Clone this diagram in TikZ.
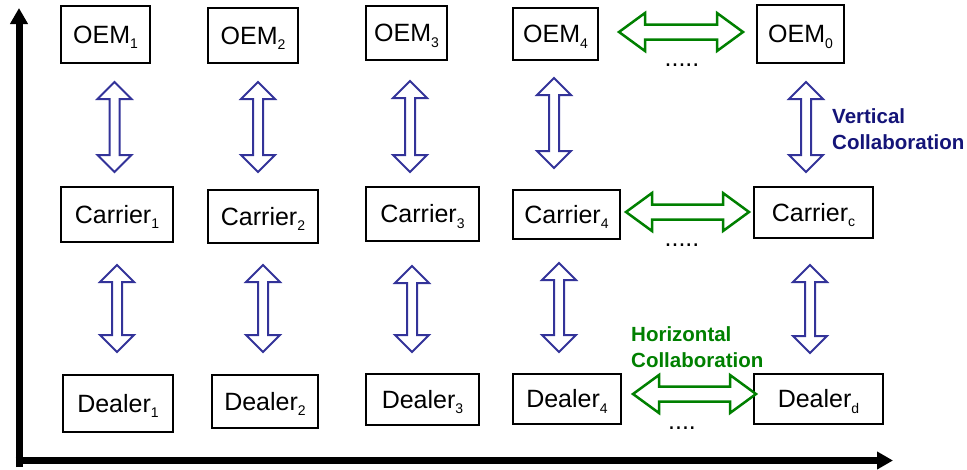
\documentclass[tikz,border=0pt]{standalone}
\usepackage{fontspec}
\setmainfont{Liberation Sans}
\usetikzlibrary{arrows.meta}

\definecolor{vblue}{RGB}{51,51,153}
\definecolor{vnavy}{RGB}{20,20,120}
\definecolor{hgreen}{RGB}{0,128,0}

% small lowered index inside the boxes (kept out of the box height)
\newcommand\idx[1]{\raisebox{-0.22em}[0pt][0pt]{\fontsize{14}{14}\selectfont #1}}

% vertical double arrow: name, x, top y, bottom y
\newcommand\vdarrow[4]{%
  \coordinate (#1-top) at (#2,#3);
  \coordinate (#1-bot) at (#2,#4);
  \draw[varr] (#1-top) -- ++(17,17) -- ++(-12,0) -- (#2+5,#4-17) -- ++(12,0)
    -- (#1-bot) -- ++(-17,-17) -- ++(12,0) -- (#2-5,#3+17) -- ++(-12,0) -- cycle;}

% horizontal double arrow: name, left x, right x, y
\newcommand\hdarrow[4]{%
  \coordinate (#1-l) at (#2,#4);
  \coordinate (#1-r) at (#3,#4);
  \draw[harr] (#1-l) -- ++(26,-19) -- ++(0,11.5) -- (#3-26,#4-7.5) -- ++(0,-11.5)
    -- (#1-r) -- ++(-26,19) -- ++(0,-11.5) -- (#2+26,#4+7.5) -- ++(0,11.5) -- cycle;}

\tikzset{
  box/.style={draw, line width=2.5pt, inner sep=0pt, font=\fontsize{25}{30}\selectfont},
  varr/.style={draw=vblue, line width=2pt, line join=miter, fill=white},
  harr/.style={draw=hgreen, line width=2.5pt, line join=miter, fill=white},
  axis/.style={line width=7pt, -{Triangle[length=16pt,width=17pt]}},
  dots/.style={font=\fontsize{25}{30}\selectfont, inner sep=0pt, anchor=base},
  vlabel/.style={font=\fontsize{20.5}{26}\bfseries\selectfont, text=vnavy, inner sep=0pt, anchor=base west},
  hlabel/.style={font=\fontsize{20.5}{26}\bfseries\selectfont, text=hgreen, inner sep=0pt, anchor=base west}
}

\begin{document}
\begin{tikzpicture}[x=1pt, y=-1pt]
\useasboundingbox (0,0) rectangle (967,469);

% axes
\coordinate (origin) at (19,467);
\coordinate (ytip) at (19,8);
\coordinate (xstart) at (15.5,460.5);
\coordinate (xtip) at (893,460.5);
\draw[axis] (origin) -- (ytip);
\draw[axis] (xstart) -- (xtip);

% OEM row
\node[box, minimum width=89pt, minimum height=57pt] (oem1) at (105.5,34.5) {OEM\idx{1}};
\node[box, minimum width=90pt, minimum height=55pt] (oem2) at (253,35.5) {OEM\idx{2}};
\node[box, minimum width=81pt, minimum height=54pt] (oem3) at (406.5,33) {OEM\idx{3}};
\node[box, minimum width=85pt, minimum height=52pt] (oem4) at (555.5,34) {OEM\idx{4}};
\node[box, minimum width=87pt, minimum height=58pt] (oem0) at (800.5,34) {OEM\idx{0}};

% Carrier row
\node[box, minimum width=112pt, minimum height=55pt] (car1) at (117,214.5) {Carrier\idx{1}};
\node[box, minimum width=110pt, minimum height=53pt] (car2) at (263,216.5) {Carrier\idx{2}};
\node[box, minimum width=113pt, minimum height=54pt] (car3) at (422.5,214) {Carrier\idx{3}};
\node[box, minimum width=107pt, minimum height=49pt] (car4) at (566.5,214.5) {Carrier\idx{4}};
\node[box, minimum width=119pt, minimum height=51pt] (carc) at (813.5,212.5) {Carrier\idx{c}};

% Dealer row
\node[box, minimum width=110pt, minimum height=57pt] (dea1) at (118,403.5) {Dealer\idx{1}};
\node[box, minimum width=106pt, minimum height=53pt] (dea2) at (265,401.5) {Dealer\idx{2}};
\node[box, minimum width=113pt, minimum height=51pt] (dea3) at (422.5,399.5) {Dealer\idx{3}};
\node[box, minimum width=108pt, minimum height=50pt] (dea4) at (567,399) {Dealer\idx{4}};
\node[box, minimum width=129pt, minimum height=50pt] (dead) at (818.5,399) {Dealer\idx{d}};

% vertical collaboration: OEM <-> Carrier
\vdarrow{oc1}{114.5}{82}{172}
\vdarrow{oc2}{258}{82}{172}
\vdarrow{oc3}{410}{81}{172}
\vdarrow{oc4}{554}{78}{168}
\vdarrow{oc0}{806}{82}{172}

% vertical collaboration: Carrier <-> Dealer
\vdarrow{cd1}{117}{265}{352}
\vdarrow{cd2}{263}{265}{352}
\vdarrow{cd3}{412}{266}{352}
\vdarrow{cd4}{559}{263}{352}
\vdarrow{cdd}{810}{265}{353}

% horizontal collaboration
\hdarrow{hoem}{619}{743}{32}
\hdarrow{hcar}{626}{749}{212}
\hdarrow{hdea}{633}{756}{394}

% ellipses between columns
\node[dots] (dotsoem) at (682,66) {.....};
\node[dots] (dotscar) at (682,246) {.....};
\node[dots] (dotsdea) at (682,429) {....};

% labels
\node[vlabel] (vlab1) at (832,123) {Vertical};
\node[vlabel] (vlab2) at (832,149) {Collaboration};
\node[hlabel] (hlab1) at (631,341) {Horizontal};
\node[hlabel] (hlab2) at (631,367) {Collaboration};
\end{tikzpicture}
\end{document}
